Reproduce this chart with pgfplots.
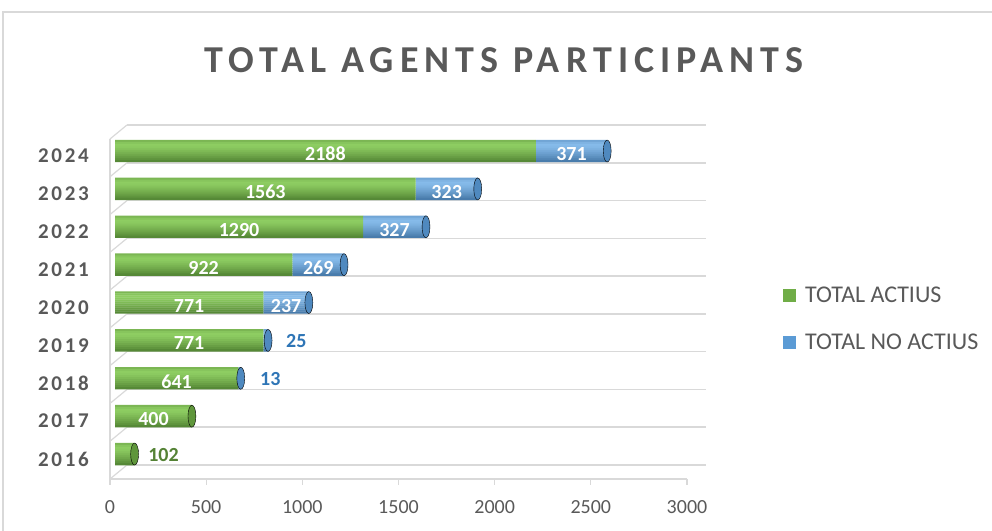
\documentclass[border=0pt]{standalone}
\usepackage{fontspec}
\setmainfont{Carlito}
\newfontfamily\spaced[LetterSpace=13]{Carlito}
\newfontfamily\titlefont[LetterSpace=16]{Carlito}
\usepackage{pgfplots}
\pgfplotsset{compat=1.18}
\definecolor{txt}{HTML}{595959}
\definecolor{gridc}{HTML}{D9D9D9}
\definecolor{gA}{HTML}{8ECD62}
\definecolor{gB}{HTML}{70AD47}
\definecolor{gC}{HTML}{4A7A2D}
\definecolor{bA}{HTML}{86BBEA}
\definecolor{bB}{HTML}{5B9BD5}
\definecolor{bC}{HTML}{3C6E9E}
\definecolor{glab}{HTML}{548235}
\definecolor{blab}{HTML}{2E75B6}
\pgfplotsset{baraxis/.style={at={(115bp,58bp)}, anchor=south west, scale only axis, width=577bp, height=340.9bp,
  xmin=0, xmax=3000, ymin=-0.5, ymax=8.5}}
\begin{document}
\begin{tikzpicture}[x=1bp,y=1bp]
\useasboundingbox (0,0) rectangle (992,531);
\draw[gridc, line width=1.2bp] (3,0) -- (3,519) -- (992,519);
\node[txt, font={\fontsize{38bp}{44bp}\selectfont\bfseries\titlefont}] at (504,471) {TOTAL AGENTS PARTICIPANTS};
% back wall / floor grid
\begin{axis}[at={(127bp,66bp)}, anchor=south west, scale only axis, width=579bp, height=340bp,
  xmin=0, xmax=3000, ymin=0, ymax=9, xtick=\empty, ytick={0,...,9}, yticklabels={},
  major tick length=0, ymajorgrids, grid style={gridc, line width=1.5bp},
  axis line style={draw=none}]
\addplot[draw=none] coordinates {(0,0)};
\end{axis}
\foreach \k in {0,...,9} {\draw[gridc, line width=1.2bp] (110,{52+37.78*\k}) -- (127,{66+37.78*\k});}
\draw[gridc, line width=1.2bp] (110,52) -- (110,392);
% front axis with ticks
\begin{axis}[at={(110bp,52bp)}, anchor=south west, scale only axis, width=577bp, height=340bp,
  xmin=0, xmax=3000, ymin=0, ymax=1, axis x line*=bottom, axis y line=none,
  xtick={0,500,...,3000}, tick align=outside, major tick length=6bp,
  x axis line style={gridc, line width=1.5bp, -}, xtick style={gridc, line width=1.2bp},
  xticklabel style={txt, font=\fontsize{20bp}{24bp}\selectfont, anchor=north, inner sep=0pt, yshift=-15bp},
  /pgf/number format/assume math mode=true, /pgf/number format/set thousands separator={}]
\addplot[draw=none] coordinates {(0,0)};
\end{axis}
% year labels
\begin{axis}[baraxis, xtick=\empty, ytick={0,...,8}, yticklabels={2016,2017,2018,2019,2020,2021,2022,2023,2024},
  yticklabel style={txt, font={\fontsize{21bp}{25bp}\selectfont\bfseries\spaced}, anchor=east, inner sep=0pt, xshift=-26bp, yshift=-5bp},
  major tick length=0, axis line style={draw=none}]
\addplot[draw=none] coordinates {(0,0)};
\end{axis}
% bars drawn as thin stacked bands, top to bottom, to give the cylinder shading
\foreach \s/\p in {10/72, 8/90, 6/100, 4/96, 2/88, 0/78, -2/68, -4/57, -6/45, -8/32, -10/18} {
\begin{axis}[baraxis, hide axis, xbar stacked, bar width=2.4bp, bar shift=\s bp]
\addplot[draw=none, fill=gA!\p!gC] coordinates {(102,0) (400,1) (641,2) (771,3) (771,4) (922,5) (1290,6) (1563,7) (2188,8)};
\addplot[draw=none, fill=bA!\p!bC] coordinates {(0,0) (0,1) (13,2) (25,3) (237,4) (269,5) (327,6) (323,7) (371,8)};
\end{axis}
}
% caps, labels, legend
\begin{axis}[baraxis, hide axis, clip=false,
  legend style={at={(1.1577,0.5474)}, anchor=north west, draw=none, fill=none, inner sep=0pt,
    row sep=30.5bp, font=\fontsize{24bp}{28bp}\selectfont, text=txt, nodes={inner sep=0pt, anchor=west},
    /tikz/every odd column/.append style={column sep=9bp}},
  legend cell align=left,
  legend image code/.code={\fill[#1] (0bp,-6.5bp) rectangle (13bp,6.5bp);}]
\addplot[only marks, mark=*, mark size=11bp, mark options={xscale=0.36, draw=none, fill=gB!55!gC}, forget plot] coordinates {(102,0) (400,1)};
\addplot[only marks, mark=*, mark size=11bp, mark options={xscale=0.36, draw=none, fill=bB!60!bC}, forget plot] coordinates {(654,2) (796,3) (1008,4) (1191,5) (1617,6) (1886,7) (2559,8)};
\addplot[draw=none, forget plot, nodes near coords, point meta=explicit symbolic,
  nodes near coords style={anchor=center, white, inner sep=0pt, yshift=-3bp, font=\fontsize{20bp}{24bp}\selectfont\bfseries}]
  table[meta=label] {
x y label
200 1 400
320.5 2 641
385.5 3 771
385.5 4 771
461 5 922
645 6 1290
781.5 7 1563
1094 8 2188
889.5 4 237
1056.5 5 269
1453.5 6 327
1724.5 7 323
2373.5 8 371
};
\addplot[draw=none, forget plot, nodes near coords, point meta=explicit symbolic,
  nodes near coords style={anchor=west, text=glab, inner sep=0pt, yshift=-1bp, font=\fontsize{20bp}{24bp}\selectfont\bfseries}]
  table[meta=label] {
x y label
172 0 102
};
\addplot[draw=none, forget plot, nodes near coords, point meta=explicit symbolic,
  nodes near coords style={anchor=west, text=blab, inner sep=0pt, yshift=-1bp, font=\fontsize{20bp}{24bp}\selectfont\bfseries}]
  table[meta=label] {
x y label
754 2 13
889 3 25
};
\addlegendimage{fill=gB, draw=none}
\addlegendentry{TOTAL ACTIUS}
\addlegendimage{fill=bB, draw=none}
\addlegendentry{TOTAL NO ACTIUS}
\end{axis}
\end{tikzpicture}
\end{document}
